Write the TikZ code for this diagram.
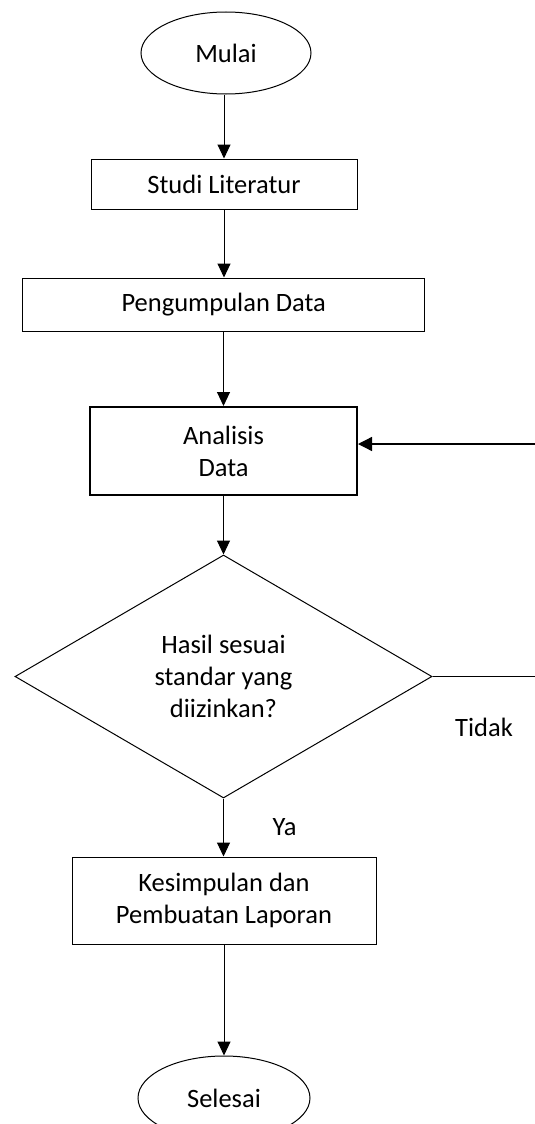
\documentclass[tikz,border=0pt]{standalone}
\usepackage{fontspec}
\setmainfont{Carlito}
\usetikzlibrary{shapes.geometric,arrows.meta}
\begin{document}
\begin{tikzpicture}[x=1pt,y=-1pt,
  every node/.style={font=\fontsize{26.5}{32}\selectfont, inner sep=0pt},
  proc/.style={draw, line width=1pt, rectangle, align=center},
  term/.style={draw, line width=1pt, ellipse},
  dec/.style={draw, line width=1pt, diamond, aspect=1.7, align=center},
  flow/.style={line width=1pt, -{Triangle[length=14pt,width=13pt]}},
]
\useasboundingbox (0,0) rectangle (535,1124);
\fill[white] (0,0) rectangle (535,1124);
\node[term, minimum width=170pt, minimum height=82pt] (mulai) at (226,53) {Mulai};
\node[proc, minimum width=266pt, minimum height=50pt] (studi) at (224,184) {Studi Literatur};
\node[proc, minimum width=402pt, minimum height=53pt] (kumpul) at (223.75,304.5) {Pengumpulan Data};
\node[proc, line width=2pt, minimum width=267pt, minimum height=88pt] (analisis) at (223.5,451) {Analisis\\Data};
\node[dec, minimum width=417pt, minimum height=243pt] (dec) at (223.5,676.5) {Hasil sesuai\\standar yang\\diizinkan?};
\node[proc, minimum width=304pt, minimum height=87pt] (simpul) at (224,900.5) {Kesimpulan dan\\Pembuatan Laporan};
\node[term, minimum width=172pt, minimum height=84pt] (selesai) at (224,1098) {Selesai};
\node[anchor=base] (ya) at (284.5,835) {Ya};
\node[anchor=base] (tidak) at (484,736) {Tidak};
\coordinate (kanan) at (537,0);
\draw[flow] (mulai.south -| studi.north) -- (studi.north);
\draw[flow] (studi.south) -- (studi.south |- kumpul.north);
\draw[flow] (analisis.north |- kumpul.south) -- (analisis.north);
\draw[flow] (analisis.south) -- (analisis.south |- dec.north);
\draw[flow] (dec.south) -- (dec.south |- simpul.north);
\draw[flow] (simpul.south) -- (simpul.south |- selesai.north);
\draw[line width=1.3pt, -{Triangle[length=14pt,width=14pt]}] (dec.east) -- (dec.east -| kanan) |- ([yshift=7pt]analisis.east);
\end{tikzpicture}
\end{document}
